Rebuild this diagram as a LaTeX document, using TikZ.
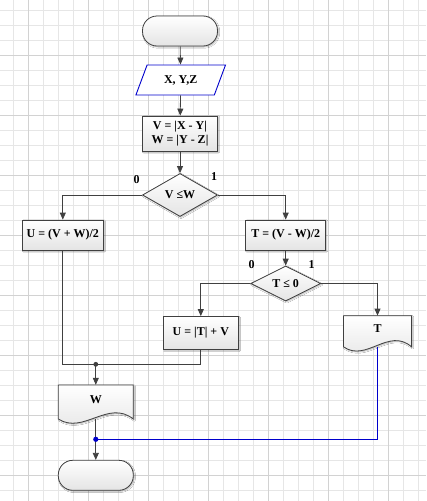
\documentclass[tikz,border=0pt]{standalone}
\usepackage{fontspec}
\setmainfont{Liberation Serif}
\usepackage{tikz}
\usetikzlibrary{shapes.geometric, arrows.meta, shadows.blur}
\definecolor{LineGray}{HTML}{404040}
\definecolor{FillGray}{HTML}{E4E4E4}
\definecolor{FlowBlue}{HTML}{0000CC}
\definecolor{GridMinor}{HTML}{E6E6E6}
\definecolor{GridMajor}{HTML}{D2D2D2}
\newcommand\flowfont{\fontsize{12}{14.5}\selectfont\bfseries}
\tikzset{
  softshadow/.style={blur shadow={shadow xshift=1pt, shadow yshift=-1pt, shadow blur radius=1.2pt, shadow opacity=30}},
  block/.style={draw=LineGray, line width=0.8pt, top color=white, bottom color=FillGray, softshadow, font=\flowfont, minimum width=75pt, minimum height=30pt, inner sep=1pt, align=center},
  terminal/.style={block, rounded corners=14.5pt},
  inputbox/.style={draw=FlowBlue, line width=0.9pt, fill=white, font=\flowfont, trapezium, trapezium left angle=63.4, trapezium right angle=116.6, trapezium stretches=true, minimum width=90pt, minimum height=30pt, inner sep=1pt},
  decision/.style={block, diamond, minimum width=75pt, minimum height=43pt, inner sep=0pt},
  docbox/.style={font=\flowfont, minimum width=75pt, minimum height=34pt, text height=8pt, text depth=6pt, inner sep=0pt},
  docline/.style={draw=LineGray, line width=0.8pt, top color=white, bottom color=FillGray, softshadow},
  branch/.style={font=\flowfont, inner sep=0pt},
  line/.style={draw=LineGray, line width=0.8pt},
  flow/.style={line, -{Triangle[length=7pt,width=6pt]}}
}
% document outline: centre x, centre y, width, height
\newcommand\docshape[4]{%
  \draw[docline] (#1-#3/2,#2+#4/2) -- (#1-#3/2,#2-#4/2) -- (#1+#3/2,#2-#4/2) -- (#1+#3/2,#2+#4/2)
    .. controls (#1+#3/2-#3/3,#2+#4/2-20) and (#1-#3/2+#3/3,#2+#4/2+16) .. (#1-#3/2,#2+#4/2) -- cycle;}
\begin{document}
\begin{tikzpicture}[x=1pt, y=-1pt]
\useasboundingbox (0,0) rectangle (426,501);
\fill[white] (0,0) rectangle (426,501);
% grid
\foreach \gx in {-1.7,13.3,...,430} \draw[GridMinor, line width=0.8pt] (\gx,0) -- (\gx,501);
\foreach \gy in {10,25,...,505} \draw[GridMinor, line width=0.8pt] (0,\gy) -- (426,\gy);
\foreach \gx in {28.3,88.3,...,430} \draw[GridMajor, line width=0.8pt] (\gx,0) -- (\gx,501);
\foreach \gy in {-5,55,...,505} \draw[GridMajor, line width=0.8pt] (0,\gy) -- (426,\gy);

% shapes
\node[terminal] (start) at (180,31) {};
\node[inputbox] (inp) at (180.7,80) {X, Y,Z};
\node[block, minimum height=35pt] (calc) at (180,133.5) {V = |X - Y|\\W = |Y - Z|};
\node[decision] (cond1) at (180,195) {V ≤W};
\node[block, minimum width=81pt] (sumU) at (62.8,235) {U = (V + W)/2};
\node[block, minimum width=80pt] (difT) at (285.7,235) {T = (V - W)/2};
\node[decision, minimum width=70pt, minimum height=35pt] (cond2) at (285.7,283.5) {T ≤ 0};
\node[block, minimum height=33pt] (absU) at (200.8,333) {U = |T| + V};
\docshape{377.5}{331.3}{68}{31}
\node[docbox, minimum width=68pt, minimum height=31pt] (outT) at (377.5,331.3) {T};
\docshape{95.8}{402}{75}{34}
\node[docbox] (outW) at (95.8,402) {W};
\node[terminal] (stop) at (95.8,475.3) {};

% branch labels
\node[branch] (no1) at (136.7,180) {0};
\node[branch] (yes1) at (214,177) {1};
\node[branch] (no2) at (251.7,265) {0};
\node[branch] (yes2) at (311.7,265) {1};

% connectors
\coordinate (join) at (95.8,364.3);
\coordinate (done) at (95.8,439.3);
\draw[flow] (start) -- (inp);
\draw[flow] (inp) -- (calc);
\draw[flow] (calc) -- (cond1);
\draw[flow] (cond1.west) -| (sumU.north);
\draw[flow] (cond1.east) -| (difT.north);
\draw[flow] (difT) -- (cond2);
\draw[flow] (cond2.west) -| (absU.north);
\draw[flow] (cond2.east) -| (outT.north);
\draw[line] (sumU.south) |- (join);
\draw[line] (absU.south) |- (join);
\fill[LineGray] (join) circle (2.4pt);
\draw[flow] (join) -- (outW.north);
\draw[line] (outW.south) -- (done);
\draw[line, FlowBlue, line width=1pt] (outT.south) |- (done);
\draw[flow] (done) -- (stop.north);
\fill[FlowBlue] (done) circle (2.6pt);
\end{tikzpicture}
\end{document}
